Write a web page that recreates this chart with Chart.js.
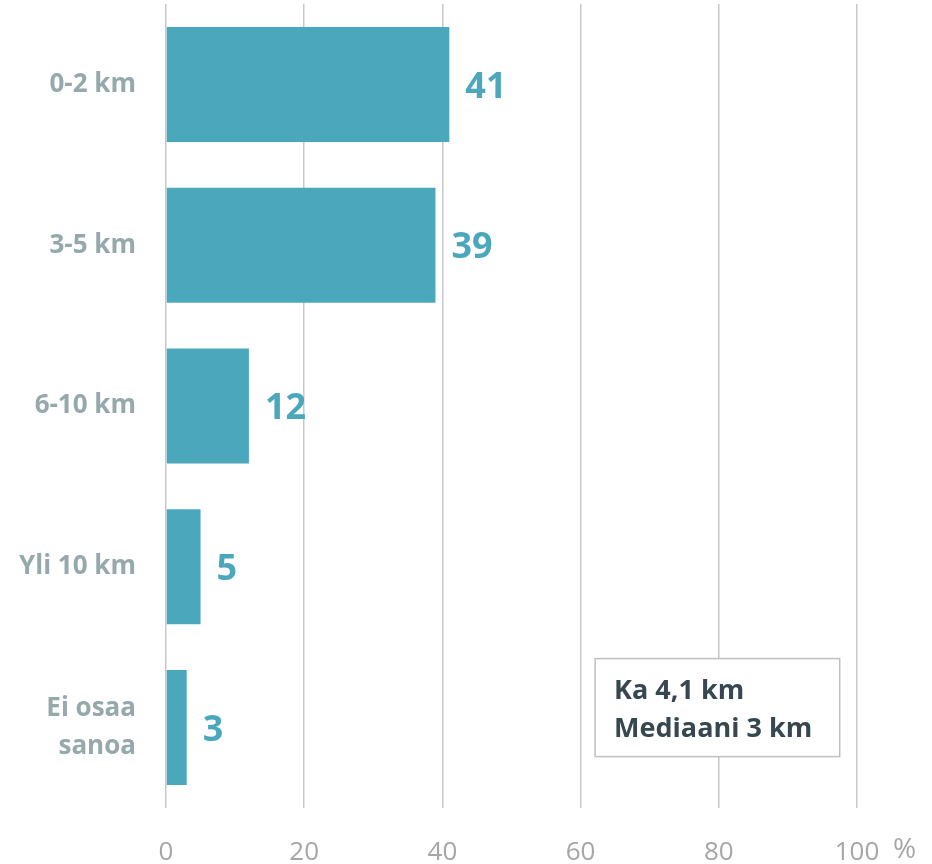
<!DOCTYPE html>
<html>
<head>
<meta charset="utf-8">
<script src="https://cdn.jsdelivr.net/npm/chart.js@4"></script>
<style>
  html, body { margin: 0; padding: 0; background: #ffffff; }
  #wrap { width: 932px; height: 864px; }
</style>
</head>
<body>
<div id="wrap"><canvas id="distChart" width="932" height="864"></canvas></div>
<script>
// categories and values (%)
const categories = ['0-2 km', '3-5 km', '6-10 km', 'Yli 10 km', ['Ei osaa', 'sanoa']];
const shares = [41, 39, 12, 5, 3];
const xTicks = [0, 20, 40, 60, 80, 100];
const noteLines = ['Ka 4,1 km', 'Mediaani 3 km'];

const teal = '#4BA7BC';
const fontName = '"Open Sans", Lato, sans-serif';

// value labels at the end of each bar
const valueLabels = {
  id: 'valueLabels',
  afterDatasetsDraw(chart) {
    const ctx = chart.ctx;
    const meta = chart.getDatasetMeta(0);
    ctx.save();
    ctx.font = 'bold 36px ' + fontName;
    ctx.fillStyle = teal;
    ctx.textAlign = 'left';
    ctx.textBaseline = 'middle';
    meta.data.forEach((bar, i) => {
      ctx.fillText(String(shares[i]), bar.x + 16, bar.y + 3);
    });
    ctx.restore();
  }
};

// "%" after the last tick and the mean/median box
const extras = {
  id: 'extras',
  afterDraw(chart) {
    const ctx = chart.ctx;
    const xs = chart.scales.x;
    const ys = chart.scales.y;
    ctx.save();
    ctx.font = '28px ' + fontName;
    ctx.fillStyle = '#A6A6A6';
    ctx.textBaseline = 'middle';
    ctx.textAlign = 'left';
    const lastX = xs.getPixelForValue(100);
    ctx.fillText('%', lastX + 36, 850);

    // note box
    const left = xs.getPixelForValue(62.1);
    const right = xs.getPixelForValue(97.5);
    const cy = ys.getPixelForValue(4);
    const top = cy - 69, bottom = cy + 29;
    ctx.fillStyle = '#ffffff';
    ctx.fillRect(left, top, right - left, bottom - top);
    ctx.strokeStyle = '#BFBFBF';
    ctx.lineWidth = 1.5;
    ctx.strokeRect(left, top, right - left, bottom - top);
    ctx.fillStyle = '#36474F';
    ctx.font = 'bold 27px ' + fontName;
    ctx.fillText(noteLines[0], left + 19, top + 33);
    ctx.fillText(noteLines[1], left + 19, top + 71);
    ctx.restore();
  }
};

new Chart(document.getElementById('distChart'), {
  type: 'bar',
  data: {
    labels: categories,
    datasets: [{
      data: shares,
      backgroundColor: teal,
      borderWidth: 0,
      categoryPercentage: 1,
      barPercentage: 0.715
    }]
  },
  options: {
    indexAxis: 'y',
    responsive: false,
    animation: false,
    layout: { padding: { top: 4, right: 75, left: 0, bottom: 0 } },
    plugins: {
      legend: { display: false },
      tooltip: { enabled: false }
    },
    scales: {
      x: {
        min: 0,
        max: 100,
        afterBuildTicks(axis) {
          axis.ticks = xTicks.map(v => ({ value: v }));
        },
        afterFit(axis) { axis.height = 56; },
        grid: { color: '#C8C8C8', lineWidth: 1.5, drawTicks: false },
        border: { display: false },
        ticks: {
          color: '#A6A6A6',
          font: { family: fontName, size: 26 },
          padding: 29
        }
      },
      y: {
        afterFit(axis) {
          axis.width = 166;
          axis.paddingTop = 0;
          axis.paddingBottom = 0;
        },
        grid: { display: false },
        border: { display: false },
        ticks: {
          color: '#95A9AD',
          font: { family: fontName, size: 26, weight: 'bold', lineHeight: 1.45 },
          padding: 22,
          crossAlign: 'near'
        }
      }
    }
  },
  plugins: [valueLabels, extras]
});
</script>
</body>
</html>
